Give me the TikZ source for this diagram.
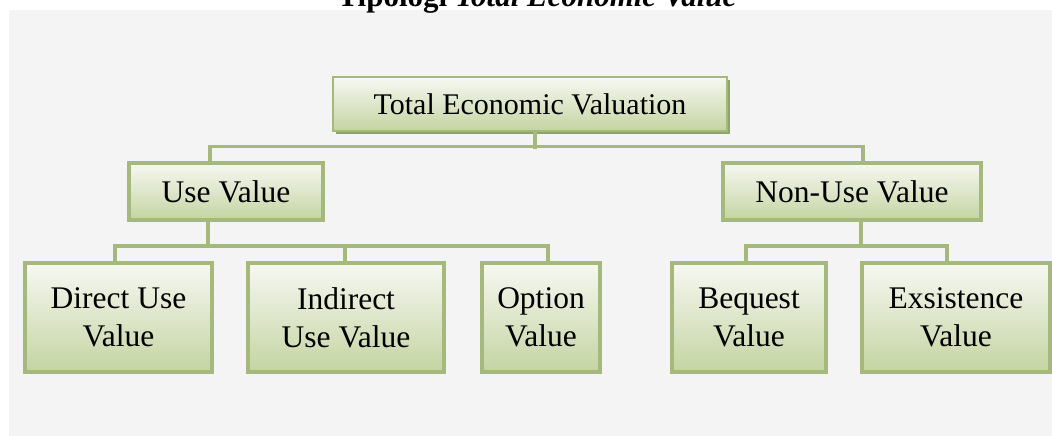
\documentclass[tikz,border=0pt]{standalone}
\usepackage{fontspec}
\setmainfont{Liberation Serif}
\usepackage{tikz}
\usetikzlibrary{positioning,shadows}
\definecolor{hijau}{HTML}{A6B97C}
\definecolor{hijaumuda}{HTML}{C4D4A2}
\definecolor{putih}{HTML}{F7F8F2}
\definecolor{hijaugelap}{HTML}{8FA468}
\definecolor{latar}{HTML}{F4F4F4}

\begin{document}
\begin{tikzpicture}[
    x=1pt, y=1pt,
    akar/.style={rectangle, draw=hijau, line width=2.5pt,
      top color=putih, bottom color=hijaumuda, text=black,
      minimum width=394pt, minimum height=54pt, align=center,
      font=\fontsize{30}{36}\selectfont,
      drop shadow={shadow xshift=2.5pt, shadow yshift=-3pt, fill=hijaugelap, opacity=1}},
    cabang/.style={rectangle, draw=hijau, line width=3.5pt,
      top color=putih, bottom color=hijaumuda, text=black,
      minimum height=57pt, align=center,
      font=\fontsize{31.5}{38}\selectfont},
    daun/.style={cabang, minimum height=109pt},
    garis/.style={-, draw=hijau, line width=3.5pt}
  ]
    \useasboundingbox (0,0) rectangle (1052,-436);
    \fill[latar] (9,-10) rectangle (1052,-436);

    % judul di atas panel
    \node[anchor=base, font=\fontsize{31}{36}\selectfont\bfseries] (judul) at (537,-7)
      {Tipologi \textit{Total Economic Value}};

    \node[akar] (tev) at (530,-104) {Total Economic Valuation};

    \node[cabang, minimum width=194pt] (uv)  at (226,-191.5) {Use Value};
    \node[cabang, minimum width=258pt] (nuv) at (852,-191.5) {Non-Use Value};

    \node[daun, minimum width=187pt] (duv) at (118.5,-317.5) {Direct Use\\Value};
    \node[daun, minimum width=196pt] (iuv) at (346,-317.5)   {Indirect\\Use Value};
    \node[daun, minimum width=118pt] (ov)  at (541,-317.5)   {Option\\Value};
    \node[daun, minimum width=154pt] (bv)  at (749,-317.5)   {Bequest\\Value};
    \node[daun, minimum width=188pt] (ev)  at (956,-317.5)   {Exsistence\\Value};

    \draw[garis] ([xshift=5]tev.south) -- ++(0,-17);
    \draw[garis] ([xshift=-16]uv.north) -- ++(0,15) -| ([xshift=11]nuv.north);

    \foreach \n/\d in {duv/-3.5,iuv/-1,ov/7}
      \draw[garis] ([xshift=-18]uv.south) -- ++(0,-24) -| ([xshift=\d]\n.north);
    \foreach \n/\d in {bv/-3,ev/-9}
      \draw[garis] ([xshift=9]nuv.south) -- ++(0,-24) -| ([xshift=\d]\n.north);
  \end{tikzpicture}
\end{document}
